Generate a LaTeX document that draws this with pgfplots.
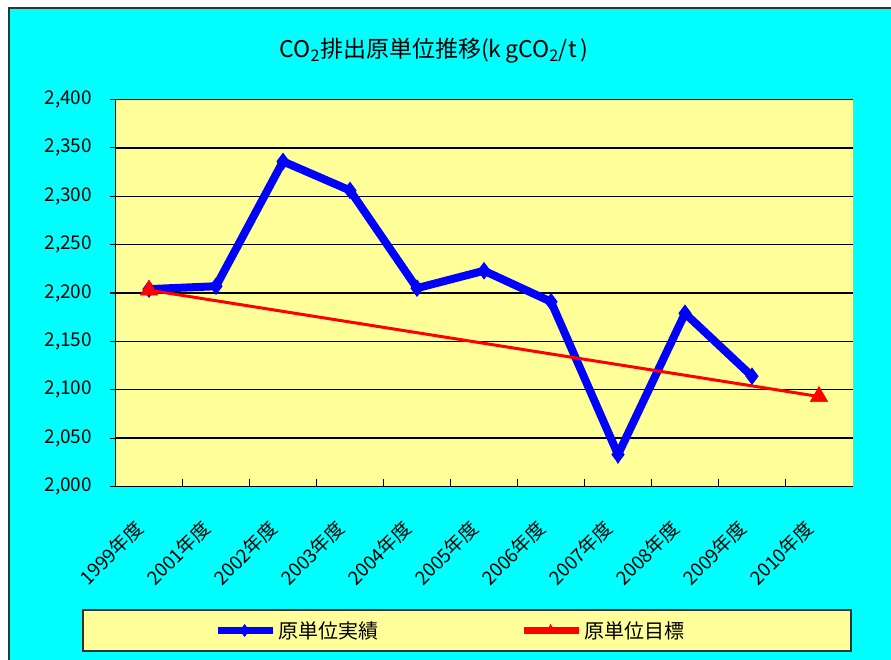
\documentclass[border=0pt]{standalone}
\usepackage{fontspec}
\setmainfont{Noto Sans CJK JP}
\usepackage{pgfplots}
\pgfplotsset{compat=1.18}
\definecolor{bgcyan}{HTML}{00FFFF}
\definecolor{plotyel}{HTML}{FFFF99}
\definecolor{frame}{HTML}{333333}
\begin{document}
\begin{tikzpicture}
\clip (0,0) rectangle (891pt,659pt);
\fill[white] (0,0) rectangle (891pt,659pt);
\filldraw[fill=bgcyan,draw=frame,line width=1.5pt] (9pt,-10pt) rectangle (900pt,651pt);
\node[font=\fontsize{23}{25}\selectfont] at (434pt,608pt) {CO\textsubscript{2}排出原単位推移(k\,gCO\textsubscript{2}/t\,)};
\filldraw[fill=plotyel,draw=frame,line width=1.5pt] (83pt,8pt) rectangle (851pt,49pt);
\begin{axis}[
  at={(115.5pt,172.5pt)}, anchor=south west,
  scale only axis, width=737pt, height=387pt,
  xmin=-0.5, xmax=10.5, ymin=2000, ymax=2400,
  ytick distance=50,
  xtick={0,...,10},
  xticklabels={1999年度,2001年度,2002年度,2003年度,2004年度,2005年度,2006年度,2007年度,2008年度,2009年度,2010年度},
  minor xtick={0.5,1.5,...,9.5},
  xtick align=inside, ytick align=outside,
  major x tick style={draw=none},
  minor tick length=8pt,
  major tick length=6pt,
  tick style={black, line width=1.2pt},
  axis x line*=bottom, axis y line*=left,
  axis line style={black, line width=1.5pt},
  axis background/.style={fill=plotyel},
  ymajorgrids, grid style={black, line width=1.3pt},
  /pgf/number format/.cd, 1000 sep={,}, assume math mode=true,
  /pgfplots/.cd,
  tick label style={font=\fontsize{19}{21}\selectfont},
  yticklabel style={xshift=-14pt},
  xticklabel style={rotate=45, anchor=north east, xshift=-30pt, yshift=-8pt},
  clip=false,
  legend columns=2,
  legend style={at={(axis description cs:0.454,-0.372)}, anchor=center, draw=none, fill=none,
    font=\fontsize{20}{22}\selectfont, /tikz/every even column/.append style={column sep=140pt}},
  legend image code/.code={\draw[#1,line width=7pt,mark size=6pt,mark options={line width=0.5pt},mark repeat=2,mark phase=2] plot coordinates {(0pt,0pt) (27pt,0pt) (55pt,0pt)};},
]
\addplot[blue, line width=8pt, mark=diamond*, mark size=8pt, mark options={line width=1pt}] coordinates {
 (0,2204) (1,2207) (2,2336) (3,2306) (4,2205) (5,2223) (6,2191) (7,2033) (8,2179) (9,2114)};
\addlegendentry{原単位実績}
\addplot[red, line width=3pt, mark=triangle*, mark size=10pt, mark options={line width=0.5pt}] coordinates {
 (0,2203) (10,2093)};
\addlegendentry{原単位目標}
\end{axis}
\end{tikzpicture}
\end{document}
